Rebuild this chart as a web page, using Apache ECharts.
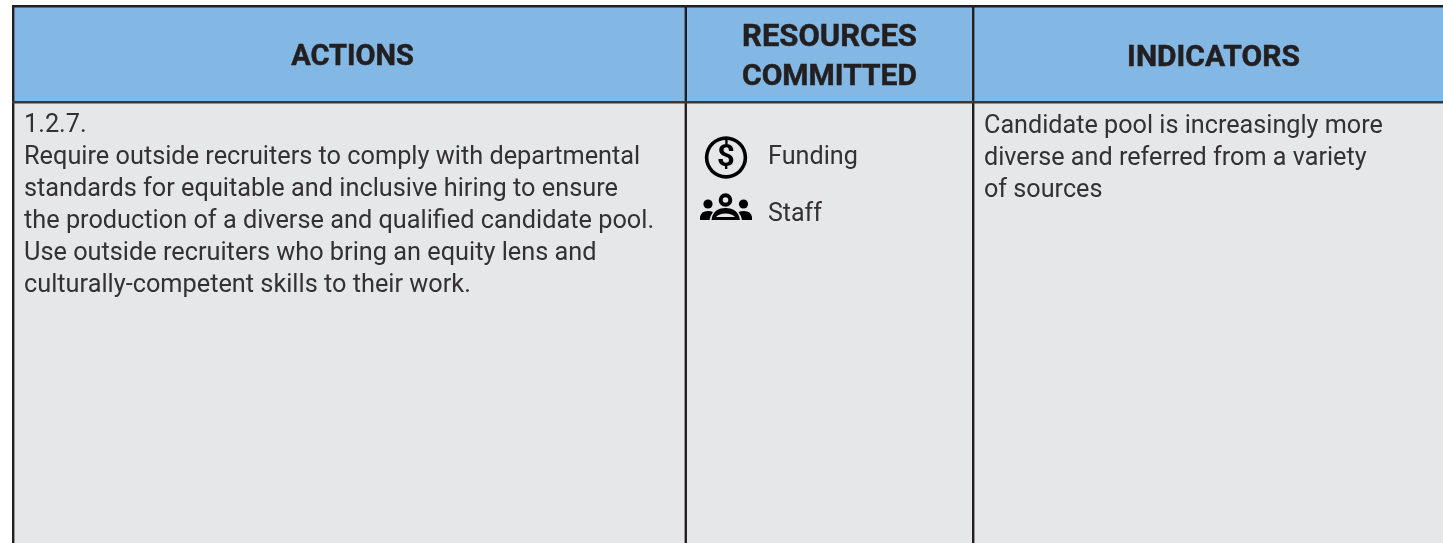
<!DOCTYPE html>
<html>
<head>
<meta charset="utf-8">
<style>
  html, body { margin: 0; padding: 0; background: #fff; }
  #char { width: 1443px; height: 543px; }
</style>
<script src="https://cdn.jsdelivr.net/npm/echarts@6/dist/echarts.min.js"></script>
</head>
<body>
<div id="char"></div>
<script>
const headers = ['ACTIONS', ['RESOURCES', 'COMMITTED'], 'INDICATORS']
const actionLines = [
  '1.2.7.',
  'Require outside recruiters to comply with departmental',
  'standards for equitable and inclusive hiring to ensure',
  'the production of a diverse and qualified candidate pool.',
  'Use outside recruiters who bring an equity lens and',
  'culturally-competent skills to their work.'
]
const resourceLabels = ['Funding', 'Staff']
const indicatorLines = [
  'Candidate pool is increasingly more',
  'diverse and referred from a variety',
  'of sources'
]

const ink = '#231f20'
const textInk = '#333132'
const cellBg = '#e6e7e9'

function txt(x, y, s, size, weight, align, fill) {
  return {
    type: 'text', x: x, y: y, silent: true,
    style: { text: s, fontFamily: 'Roboto', fontSize: size, fontWeight: weight,
      fill: fill || textInk, align: align || 'left', verticalAlign: 'middle' }
  }
}
function head(x, y, s, size) {
  let t = txt(x, y, s, size, 700, 'center', ink)
  t.style.stroke = ink
  t.style.lineWidth = 0.5
  return t
}
function rect(x, y, w, h, fill) {
  return { type: 'rect', shape: { x: x, y: y, width: w, height: h }, style: { fill: fill }, silent: true }
}
function dot(cx, cy, r, fill) {
  return { type: 'circle', silent: true, shape: { cx: cx, cy: cy, r: r }, style: { fill: fill } }
}

let els = []
// 单元格底色
els.push(rect(14, 7, 1429, 94, '#83b8e5'))
els.push(rect(14, 103, 1429, 440, cellBg))
// 表格线
els.push(rect(12, 5, 1431, 2.4, ink))
els.push(rect(12, 5, 2.4, 538, ink))
els.push(rect(684.6, 5, 2.4, 538, ink))
els.push(rect(972, 5, 2.4, 538, ink))
els.push(rect(12, 101, 1431, 2.4, '#3a3839'))

// 表头
els.push(head(352.5, 58, headers[0], 29))
els.push(head(829.5, 38, headers[1][0], 31))
els.push(head(829.5, 77, headers[1][1], 30))
els.push(head(1213.5, 58, headers[2], 30))

// 正文
actionLines.forEach((s, i) => els.push(txt(24, 126 + i * 32, s, 25.3, 400)))
indicatorLines.forEach((s, i) => els.push(txt(984, 127 + i * 32, s, 25.2, 400)))
els.push(txt(768, 158, resourceLabels[0], 25.2, 400))
els.push(txt(768, 214.5, resourceLabels[1], 25, 400))

// 美元图标
els.push({ type: 'ring', silent: true, shape: { cx: 726, cy: 157.5, r: 21.2, r0: 17.6 }, style: { fill: '#000' } })
els.push(txt(726, 158.5, '$', 31, 700, 'center', '#000'))

// 人员图标
els.push({ type: 'ring', silent: true, shape: { cx: 725.5, cy: 200, r: 6.8, r0: 2.8 }, style: { fill: '#000' } })
els.push(dot(708, 204, 4.6, '#000'))
els.push(dot(743.5, 204, 4.6, '#000'))

const staffBodies = 'M700 220 L700 217 Q701 211 708 211 Q711 211 713 212 Q710 216 709.5 220 Z ' +
  'M752 220 L752 217 Q751 211 744 211 Q741 211 738.5 212 Q741.5 216 742 220 Z ' +
  'M711.5 220 Q713 208 725.5 208 Q738 208 740 220 Z'
const staffLens = 'M716 217 Q719 213.4 725.5 213.4 Q732 213.4 735 217 Z'

let myChart = echarts.init(document.getElementById('char'), null, { renderer: 'canvas' })
myChart.setOption({
  animation: false,
  backgroundColor: '#ffffff',
  graphic: { elements: els },
  series: [{
    type: 'custom',
    coordinateSystem: 'none',
    silent: true,
    data: [0],
    renderItem: function () {
      return {
        type: 'group',
        children: [
          { type: 'path', shape: { pathData: staffBodies, x: 700, y: 208, width: 52, height: 12 }, style: { fill: '#000' } },
          { type: 'path', shape: { pathData: staffLens, x: 716, y: 213.4, width: 19, height: 3.6 }, style: { fill: cellBg } }
        ]
      }
    }
  }]
})
</script>
</body>
</html>
